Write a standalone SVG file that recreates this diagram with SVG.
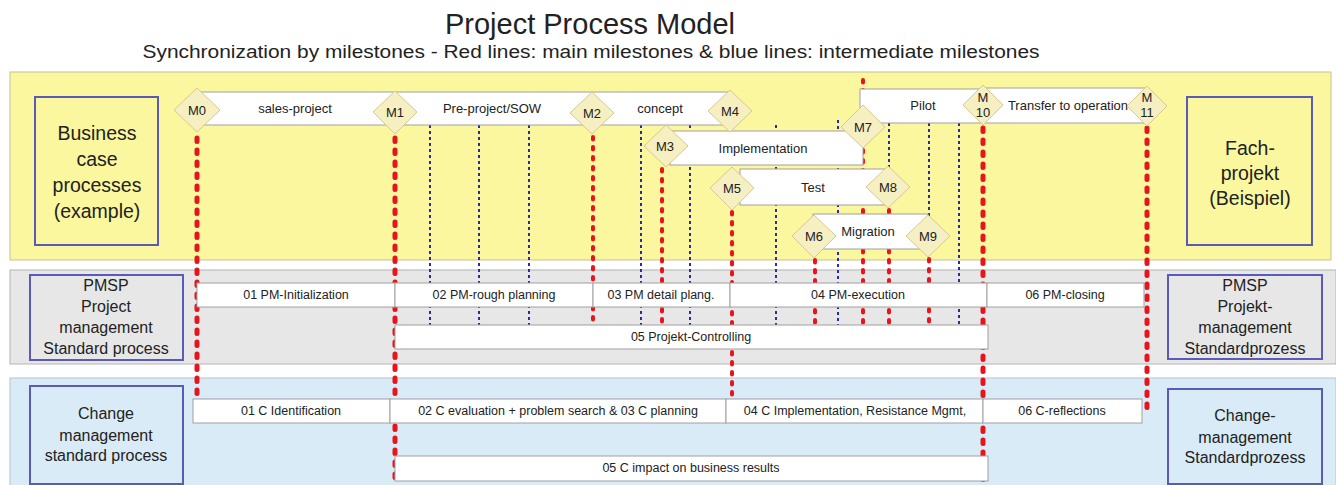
<svg xmlns="http://www.w3.org/2000/svg" width="1336" height="485" viewBox="0 0 1336 485">
<style>
text{font-family:"Liberation Sans",Arial,sans-serif;fill:#222;}
.title{font-size:29px;}
.sub{font-size:17.5px;}
.lbl{font-size:19.5px;text-anchor:middle;}
.lbl2{font-size:16px;text-anchor:middle;}
.bar{fill:#fff;stroke:#a0a0a0;stroke-width:1;}
.bt{font-size:13px;text-anchor:middle;}
.rt{font-size:12.5px;text-anchor:middle;}
.ms{fill:#f6efc2;stroke:#d6ca8e;stroke-width:1;}
.mt{font-size:13px;text-anchor:middle;}
.lb{stroke:#5a5ab8;stroke-width:2;}
.rm{stroke:#e8141c;stroke-width:5;stroke-dasharray:3.5 8.5;stroke-linecap:round;fill:none;}
.rs{stroke:#e8141c;stroke-width:4;stroke-dasharray:2.5 7.5;stroke-linecap:round;fill:none;}
.bl{stroke:#2a2ab0;stroke-width:2;stroke-dasharray:3 3;fill:none;}
</style>
<g id="title">
<text class="title" x="590" y="34" text-anchor="middle">Project Process Model</text>
<text class="sub" x="591" y="58" text-anchor="middle" textLength="897" lengthAdjust="spacingAndGlyphs">Synchronization by milestones - Red lines: main milestones &amp; blue lines: intermediate milestones</text>
</g>
<g id="bands">
<rect x="10" y="72" width="1321" height="188" fill="#faf79f" stroke="#c4c29a" stroke-width="1"/>
<rect x="10" y="270" width="1326" height="94" fill="#e7e7e7" stroke="#b4b4b4" stroke-width="1"/>
<rect x="10" y="378" width="1326" height="110" fill="#d9ebf6" stroke="#b4c4cc" stroke-width="1"/>
</g>
<g id="label-business"><rect class="lb" x="35" y="97" width="123" height="148" fill="#faf79f"/>
<text class="lbl" x="97" y="140">Business</text><text class="lbl" x="97" y="166">case</text><text class="lbl" x="97" y="192">processes</text><text class="lbl" x="97" y="218">(example)</text></g>
<g id="label-fach"><rect class="lb" x="1187" y="97" width="125" height="148" fill="#faf79f"/>
<text class="lbl" x="1250" y="155">Fach-</text><text class="lbl" x="1250" y="180">projekt</text><text class="lbl" x="1250" y="205">(Beispiel)</text></g>
<g id="label-pmsp-left"><rect class="lb" x="30" y="275" width="153" height="85" fill="#e7e7e7"/>
<text class="lbl2" x="106" y="291">PMSP</text><text class="lbl2" x="106" y="312">Project</text><text class="lbl2" x="106" y="333">management</text><text class="lbl2" x="106" y="354">Standard process</text></g>
<g id="label-pmsp-right"><rect class="lb" x="1168" y="275" width="154" height="84" fill="#e7e7e7"/>
<text class="lbl2" x="1245" y="291">PMSP</text><text class="lbl2" x="1245" y="312">Projekt-</text><text class="lbl2" x="1245" y="333">management</text><text class="lbl2" x="1245" y="354">Standardprozess</text></g>
<g id="label-change-left"><rect class="lb" x="30" y="386" width="153" height="98" fill="#d9ebf6"/>
<text class="lbl2" x="106" y="419">Change</text><text class="lbl2" x="106" y="441">management</text><text class="lbl2" x="106" y="461">standard process</text></g>
<g id="label-change-right"><rect class="lb" x="1168" y="389" width="154" height="95" fill="#d9ebf6"/>
<text class="lbl2" x="1245" y="421">Change-</text><text class="lbl2" x="1245" y="443">management</text><text class="lbl2" x="1245" y="463">Standardprozess</text></g>
<g id="connectors">
<line class="rm" x1="197" y1="138" x2="197" y2="395"/>
<line class="rm" x1="395" y1="138" x2="395" y2="485"/>
<line class="rs" x1="593" y1="137" x2="593" y2="325"/>
<line class="rs" x1="662" y1="169" x2="662" y2="325"/>
<line class="rs" x1="732" y1="212" x2="732" y2="396"/>
<line class="rs" x1="815" y1="260" x2="815" y2="325"/>
<line class="rs" x1="863" y1="80" x2="863" y2="325"/>
<line class="rs" x1="889" y1="210" x2="889" y2="325"/>
<line class="rs" x1="929" y1="259" x2="929" y2="325"/>
<line class="rm" x1="983" y1="128" x2="983" y2="485"/>
<line class="rm" x1="1147" y1="128" x2="1147" y2="408"/>
<line class="bl" x1="430" y1="125" x2="430" y2="325"/>
<line class="bl" x1="479" y1="125" x2="479" y2="325"/>
<line class="bl" x1="529" y1="125" x2="529" y2="325"/>
<line class="bl" x1="641" y1="125" x2="641" y2="325"/>
<line class="bl" x1="690" y1="125" x2="690" y2="325"/>
<line class="bl" x1="776" y1="125" x2="776" y2="325"/>
<line class="bl" x1="838" y1="120" x2="838" y2="325"/>
<line class="bl" x1="889" y1="123" x2="889" y2="170"/>
<line class="bl" x1="929" y1="123" x2="929" y2="216"/>
<line class="bl" x1="959" y1="123" x2="959" y2="325"/>
</g>
<g id="bar-row1"><rect class="bar" x="200" y="92" width="530" height="33"/>
<text class="bt" x="295" y="113">sales-project</text><text class="bt" x="492" y="113">Pre-project/SOW</text><text class="bt" x="660" y="113">concept</text></g>
<g id="bar-implementation"><rect class="bar" x="670" y="131" width="193" height="34"/><text class="bt" x="763" y="153">Implementation</text></g>
<g id="bar-test"><rect class="bar" x="740" y="169" width="147" height="36"/><text class="bt" x="813" y="192">Test</text></g>
<g id="bar-migration"><rect class="bar" x="813" y="214" width="115" height="35"/><text class="bt" x="868" y="236">Migration</text></g>
<g id="bar-pilot"><rect class="bar" x="860" y="89" width="123" height="34"/><text class="bt" x="923" y="110">Pilot</text></g>
<g id="bar-transfer"><rect class="bar" x="983" y="88" width="164" height="35"/><text class="bt" x="1068" y="110">Transfer to operation</text></g>
<g id="pm-01"><rect class="bar" x="197" y="283" width="198" height="24"/><text class="rt" x="296" y="299">01 PM-Initialization</text></g>
<g id="pm-02"><rect class="bar" x="395" y="283" width="198" height="24"/><text class="rt" x="494" y="299">02 PM-rough planning</text></g>
<g id="pm-03"><rect class="bar" x="593" y="283" width="137" height="24"/><text class="rt" x="661" y="299">03 PM detail plang.</text></g>
<g id="pm-04"><rect class="bar" x="730" y="283" width="257" height="24"/><text class="rt" x="858" y="299">04 PM-execution</text></g>
<g id="pm-06"><rect class="bar" x="987" y="283" width="157" height="24"/><text class="rt" x="1065" y="299">06 PM-closing</text></g>
<g id="pm-05"><rect class="bar" x="395" y="325" width="593" height="24"/><text class="rt" x="691" y="341">05 Projekt-Controlling</text></g>
<g id="c-01"><rect class="bar" x="193" y="399" width="197" height="24"/><text class="rt" x="291" y="415">01 C Identification</text></g>
<g id="c-02"><rect class="bar" x="390" y="399" width="336" height="24"/><text class="rt" x="558" y="415">02 C evaluation + problem search &amp; 03 C planning</text></g>
<g id="c-04"><rect class="bar" x="726" y="399" width="257" height="24"/><text class="rt" x="855" y="415">04 C Implementation, Resistance Mgmt,</text></g>
<g id="c-06"><rect class="bar" x="983" y="399" width="159" height="24"/><text class="rt" x="1062" y="415">06 C-reflections</text></g>
<g id="c-05"><rect class="bar" x="395" y="456" width="593" height="25"/><text class="rt" x="691" y="472">05 C impact on business results</text></g>
<g id="M0"><polygon class="ms" points="197,88 220,110 197,132 174,110"/><text class="mt" x="197" y="115">M0</text></g>
<g id="M1"><polygon class="ms" points="395,91 417,112 395,134 373,112"/><text class="mt" x="395" y="117">M1</text></g>
<g id="M2"><polygon class="ms" points="592,92 614,113 592,134 570,113"/><text class="mt" x="592" y="118">M2</text></g>
<g id="M3"><polygon class="ms" points="666,125 688,146 666,167 644,146"/><text class="mt" x="665" y="151">M3</text></g>
<g id="M4"><polygon class="ms" points="730,90 752,111 730,132 708,111"/><text class="mt" x="730" y="116">M4</text></g>
<g id="M5"><polygon class="ms" points="732,167 754,188 732,210 710,188"/><text class="mt" x="732" y="193">M5</text></g>
<g id="M6"><polygon class="ms" points="814,215 836,236 814,258 792,236"/><text class="mt" x="814" y="241">M6</text></g>
<g id="M7"><polygon class="ms" points="863,105 885,127 863,148 841,127"/><text class="mt" x="863" y="132">M7</text></g>
<g id="M8"><polygon class="ms" points="888,166 910,187 888,208 866,187"/><text class="mt" x="888" y="192">M8</text></g>
<g id="M9"><polygon class="ms" points="928,215 950,236 928,257 906,236"/><text class="mt" x="928" y="241">M9</text></g>
<g id="M10"><polygon class="ms" points="983,85 1003,105 983,125 963,105"/><text class="mt" x="983" y="102">M</text><text class="mt" x="983" y="117">10</text></g>
<g id="M11"><polygon class="ms" points="1147,86 1167,106 1147,126 1127,106"/><text class="mt" x="1147" y="102">M</text><text class="mt" x="1147" y="117">11</text></g>
</svg>
